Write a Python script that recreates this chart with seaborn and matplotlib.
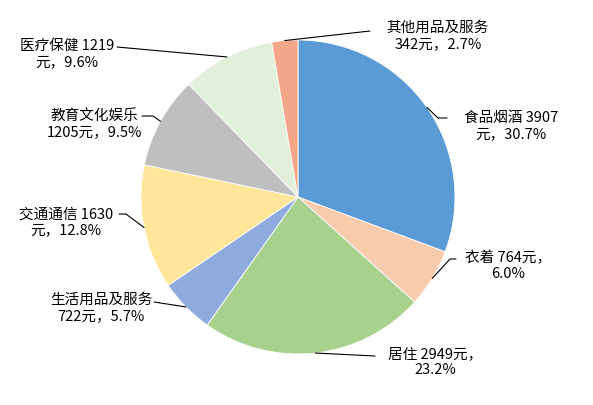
import numpy as np
import matplotlib.pyplot as plt
import seaborn as sns

categories = ['食品烟酒', '衣着', '居住', '生活用品及服务', '交通通信', '教育文化娱乐', '医疗保健', '其他用品及服务']
values = [3907, 764, 2949, 722, 1630, 1205, 1219, 342]
percents = [30.7, 6.0, 23.2, 5.7, 12.8, 9.5, 9.6, 2.7]
colors = ['#5B9BD5', '#F8CBAD', '#A9D18E', '#8FAADC', '#FFE699', '#BFBFBF', '#E2EFDA', '#F3A788']

sns.set_style('white')
plt.rcParams['font.family'] = ['Noto Sans CJK SC', 'DejaVu Sans']

W, H = 593, 406
cx, cy, R = 298, 198, 157


def px(x, y):
    # pixel position (from top-left) -> data units, pie radius = 1
    return (x - cx) / R, (cy - y) / R


# how each label wraps, where its text block sits, and the leader elbow points (pixels)
wrap = ['num', 'yuan', 'yuan', 'name', 'num', 'name', 'num', 'name']
text_pos = [(511, 126), (508, 266), (435, 362), (101, 308),
            (66, 222), (94, 124), (67, 54), (438, 36)]
leaders = [[(438, 119), (447, 119)],
           [(450, 260), (456, 260)],
           [(375, 357)],
           [(154, 303)],
           [(126, 215), (119, 215)],
           [(153, 117), (142, 117)],
           [(117, 48)],
           [(370, 32)]]

fig = plt.figure(figsize=(W / 100, H / 100), dpi=100)
ax = fig.add_axes([0, 0, 1, 1])

wedges, _ = ax.pie(values, colors=colors, startangle=90, counterclock=False, radius=1,
                   wedgeprops=dict(edgecolor='white', linewidth=0.6))
ax.set_xlim(-cx / R, (W - cx) / R)
ax.set_ylim(-(H - cy) / R, cy / R)
ax.axis('off')

for w, name, v, p, mode, tp, pts in zip(wedges, categories, values, percents, wrap, text_pos, leaders):
    if mode == 'num':
        label = f'{name} {v}\n元，{p}%'
    elif mode == 'yuan':
        label = f'{name} {v}元，\n{p}%'
    else:
        label = f'{name}\n{v}元，{p}%'
    ang = np.deg2rad((w.theta1 + w.theta2) / 2)
    xs = [np.cos(ang)] + [px(*q)[0] for q in pts]
    ys = [np.sin(ang)] + [px(*q)[1] for q in pts]
    ax.plot(xs, ys, color='black', lw=0.8)
    ax.text(*px(*tp), label, ha='center', va='center', multialignment='center',
            fontsize=10.5, color='black', linespacing=1.15)

fig.savefig('out.png', dpi=100)
